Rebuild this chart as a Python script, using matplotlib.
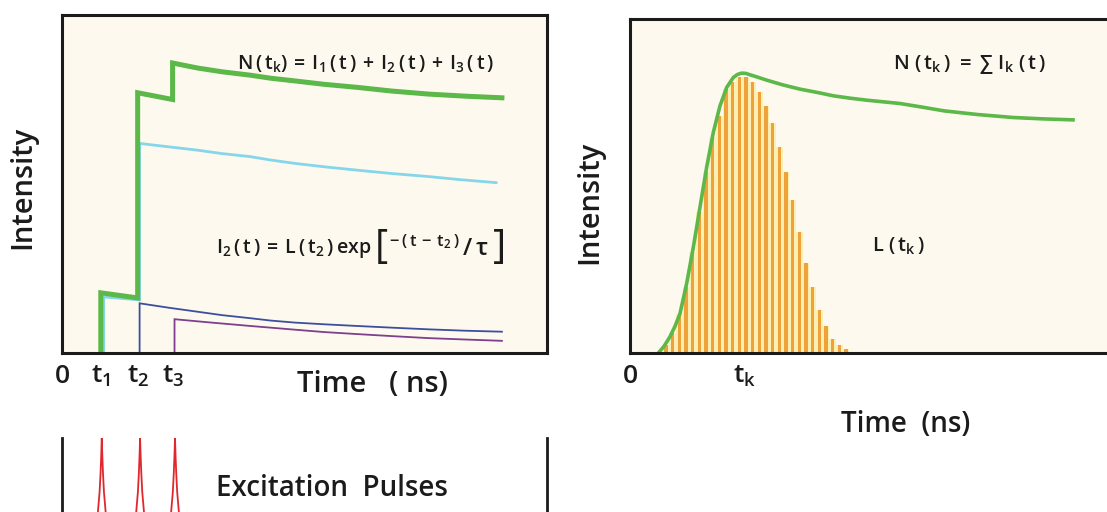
import matplotlib
matplotlib.use("Agg")
import matplotlib.pyplot as plt

FONT = "Open Sans"
WEIGHT = "semibold"
plt.rcParams.update({
    "font.family": [FONT, "DejaVu Sans"],
    "font.weight": WEIGHT,
    "axes.labelweight": WEIGHT,
    "mathtext.fontset": "custom",
    "mathtext.rm": FONT + ":" + WEIGHT,
    "mathtext.it": FONT + ":" + WEIGHT,
    "mathtext.bf": FONT + ":bold",
    "mathtext.sf": FONT + ":" + WEIGHT,
    "mathtext.default": "rm",
})

# ---------------- data ----------------
# Left panel: decay curves after each excitation pulse (time units 0..100)
green_t = [8.0, 8.0, 15.6, 15.6, 22.8, 22.8, 28.0, 33.0, 38.8, 43.0, 48.0, 54.0,
           60.8, 68.0, 75.6, 83.0, 90.7]
green_y = [0.0, 17.8, 16.3, 77.0, 75.0, 85.8, 84.3, 83.2, 82.2, 81.3, 80.5, 79.5,
           78.6, 77.5, 76.6, 76.0, 75.5]

cyan_t = [8.6, 8.6, 16.0, 16.0, 22.0, 28.0, 33.0, 38.8, 43.0, 48.0, 54.0, 60.8,
          68.0, 75.6, 82.0, 89.5]
cyan_y = [0.0, 16.6, 15.7, 62.0, 61.0, 60.0, 59.0, 58.1, 57.1, 56.1, 55.1, 54.1,
          53.1, 52.2, 51.3, 50.4]

blue_t = [16.0, 16.0, 22.0, 28.0, 33.0, 38.8, 43.0, 48.0, 54.0, 60.8, 68.0, 75.6,
          83.0, 90.7]
blue_y = [0.0, 14.7, 13.4, 12.2, 11.2, 10.3, 9.6, 9.0, 8.5, 8.0, 7.5, 7.0, 6.6, 6.3]

purple_t = [23.2, 23.2, 30.0, 34.0, 38.8, 43.0, 48.0, 54.0, 60.8, 68.0, 75.6,
            83.0, 90.7]
purple_y = [0.0, 10.0, 9.1, 8.6, 8.0, 7.5, 6.9, 6.2, 5.6, 5.0, 4.4, 4.0, 3.6]

left_ticks = [0.0, 8.0, 15.8, 23.0]
left_ticklabels = ["0", "$t_1$", "$t_2$", "$t_3$"]

# Excitation pulses: centres and one pulse profile (offset, height)
pulse_centres = [8.2, 16.1, 23.3]
pulse_dx = [-2.2, -1.4, -0.8, -0.45, -0.25, -0.1, 0.0, 0.1, 0.25, 0.45, 0.8, 1.4, 2.2]
pulse_h = [40.0, 52.0, 63.0, 73.0, 82.5, 92.0, 100.0, 92.0, 82.5, 73.0, 63.0, 52.0, 40.0]

# Right panel: lamp profile L(t_k) histogram and total decay N(t_k)
bar_x = [7.2, 8.53, 9.87, 11.2, 12.53, 13.87, 15.2, 16.53, 17.87, 19.2,
         20.53, 21.87, 23.2, 24.53, 25.87, 27.2, 28.53, 29.87, 31.2, 32.53,
         33.87, 35.2, 36.53, 37.87, 39.2, 40.53, 41.87, 43.2]
bar_h = [2.4, 5.9, 11.8, 19.8, 30.2, 42.2, 54.1, 64.6, 71.0, 79.0,
         81.0, 82.5, 82.7, 81.0, 78.0, 74.0, 69.0, 61.6, 54.1, 45.9,
         36.2, 26.8, 19.8, 12.8, 8.1, 4.1, 2.4, 1.2]

n_t = [5.67, 6.8, 8.0, 9.0, 10.0, 11.33, 12.67, 14.0, 15.33, 16.67, 18.0, 19.33,
       20.67, 21.5, 22.33, 23.2, 24.0, 25.5, 27.33, 30.5, 34.0, 37.5, 40.67, 44.0,
       47.33, 54.0, 58.5, 62.8, 69.5, 76.7, 82.5, 88.6]
n_y = [0.0, 2.0, 4.9, 8.0, 11.8, 20.8, 31.7, 43.7, 55.6, 66.1, 74.0, 79.5,
       82.5, 83.4, 83.8, 83.7, 83.3, 82.6, 81.7, 80.3, 79.0, 78.0, 77.0, 76.3,
       75.7, 74.7, 73.6, 72.5, 71.4, 70.5, 70.1, 69.8]

right_ticks = [0.0, 23.0]
right_ticklabels = ["0", "$t_k$"]

# ---------------- styles ----------------
BG = "#fdf9ee"
INK = "#1b1b1b"
GREEN = "#5cb848"
CYAN = "#86d6ea"
BLUE = "#3c4f9e"
PURPLE = "#7d3f8e"
RED = "#e0282c"
ORANGE = "#f0a23a"
PALE = "#fcefb4"

W, H = 1107, 512
fig = plt.figure(figsize=(W / 100, H / 100), dpi=100)
fig.patch.set_facecolor("white")


def px_axes(x0, y0, x1, y1):
    """axes from pixel box (top-left origin)"""
    return fig.add_axes([x0 / W, 1 - y1 / H, (x1 - x0) / W, (y1 - y0) / H])


# ---------- left panel ----------
ax1 = px_axes(62, 15, 547, 353)
ax1.set_facecolor(BG)
ax1.set_xlim(0, 100)
ax1.set_ylim(0, 100)
ax1.plot(cyan_t, cyan_y, color=CYAN, lw=2.0, solid_joinstyle="miter")
ax1.plot(blue_t, blue_y, color=BLUE, lw=1.3, solid_joinstyle="miter")
ax1.plot(purple_t, purple_y, color=PURPLE, lw=1.3, solid_joinstyle="miter")
ax1.plot(green_t, green_y, color=GREEN, lw=3.6, solid_joinstyle="miter")
for s in ax1.spines.values():
    s.set_linewidth(2.2)
    s.set_color(INK)
ax1.set_yticks([])
ax1.set_xticks(left_ticks, left_ticklabels)
ax1.tick_params(axis="x", length=0, pad=8, labelsize=19, colors=INK)
ax1.set_xlabel("Time   ( ns)", fontsize=21, color=INK)
ax1.xaxis.set_label_coords(0.64, -0.05, transform=ax1.transAxes)
ax1.xaxis.label.set_va("top")
ax1.set_ylabel("Intensity", fontsize=21, color=INK)
ax1.yaxis.set_label_coords(-0.052, 0.49)
ax1.text(0.36, 0.855,
         r"$N\,(\,t_k)\,=\,I_1\,(\,t\,)\,+\,I_2\,(\,t\,)\,+\,I_3\,(\,t\,)$",
         transform=ax1.transAxes, fontsize=14, color=INK, ha="left", va="center")
# I2(t) = L(t2) exp[ -(t-t2)/tau ] built from chained pieces
f_a = ax1.text(0.318, 0.31, r"$I_2\,(\,t\,)\,=\,L\,(\,t_2\,)\,exp$",
               transform=ax1.transAxes, fontsize=14, color=INK,
               ha="left", va="center")
f_b = ax1.annotate("[", xy=(1.0, 0.5), xycoords=f_a, xytext=(2, 0),
                   textcoords="offset points", fontsize=29, fontweight="normal",
                   color=INK, ha="left", va="center")
f_c = ax1.annotate(r"${}^{-\,(\,t\,-\,t_2\,)}\,/\,\tau$", xy=(1.0, 0.5),
                   xycoords=f_b, xytext=(1, -1), textcoords="offset points",
                   fontsize=17, color=INK, ha="left", va="center")
ax1.annotate("]", xy=(1.0, 0.5), xycoords=f_c, xytext=(3, 1),
             textcoords="offset points", fontsize=29, fontweight="normal",
             color=INK, ha="left", va="center")

# ---------- excitation pulses ----------
ax3 = px_axes(62, 438, 547, 638)
ax3.set_xlim(0, 100)
ax3.set_ylim(0, 100)
ax3.patch.set_alpha(0)
for side in ("top", "bottom"):
    ax3.spines[side].set_visible(False)
for side in ("left", "right"):
    ax3.spines[side].set_linewidth(2.0)
    ax3.spines[side].set_color(INK)
ax3.set_xticks([])
ax3.set_yticks([])
for c in pulse_centres:
    ax3.plot([c + d for d in pulse_dx], pulse_h, color=RED, lw=1.3)
ax3.text(0.317, 0.75, "Excitation  Pulses", transform=ax3.transAxes,
         fontsize=20, color=INK, ha="left", va="center")

# ---------- right panel ----------
ax2 = px_axes(630, 19, 1130, 353)
ax2.set_facecolor(BG)
ax2.set_xlim(0, 100)
ax2.set_ylim(0, 100)
ax2.bar(bar_x, bar_h, width=1.333, color=PALE, linewidth=0)
ax2.bar(bar_x, bar_h, width=0.7, color=ORANGE, linewidth=0)
ax2.plot(n_t, n_y, color=GREEN, lw=2.6)
for s in ax2.spines.values():
    s.set_linewidth(2.2)
    s.set_color(INK)
ax2.set_yticks([])
ax2.set_xticks(right_ticks, right_ticklabels)
ax2.tick_params(axis="x", length=0, pad=8, labelsize=19, colors=INK)
ax2.set_xlabel("Time  (ns)", fontsize=20, color=INK)
ax2.xaxis.set_label_coords(0.552, -0.17, transform=ax2.transAxes)
ax2.xaxis.label.set_va("top")
ax2.set_ylabel("Intensity", fontsize=21, color=INK)
ax2.yaxis.set_label_coords(-0.052, 0.45)
ax2.text(0.526, 0.865, r"$N\;(\,t_k\,)\;=\;\sum\;I_k\;(\,t\,)$",
         transform=ax2.transAxes, fontsize=14.5, color=INK, ha="left", va="center")
ax2.text(0.484, 0.32, r"$L\;(\,t_k\,)$", transform=ax2.transAxes,
         fontsize=14.5, color=INK, ha="left", va="center")

fig.savefig("out.png", dpi=100, facecolor="white")
